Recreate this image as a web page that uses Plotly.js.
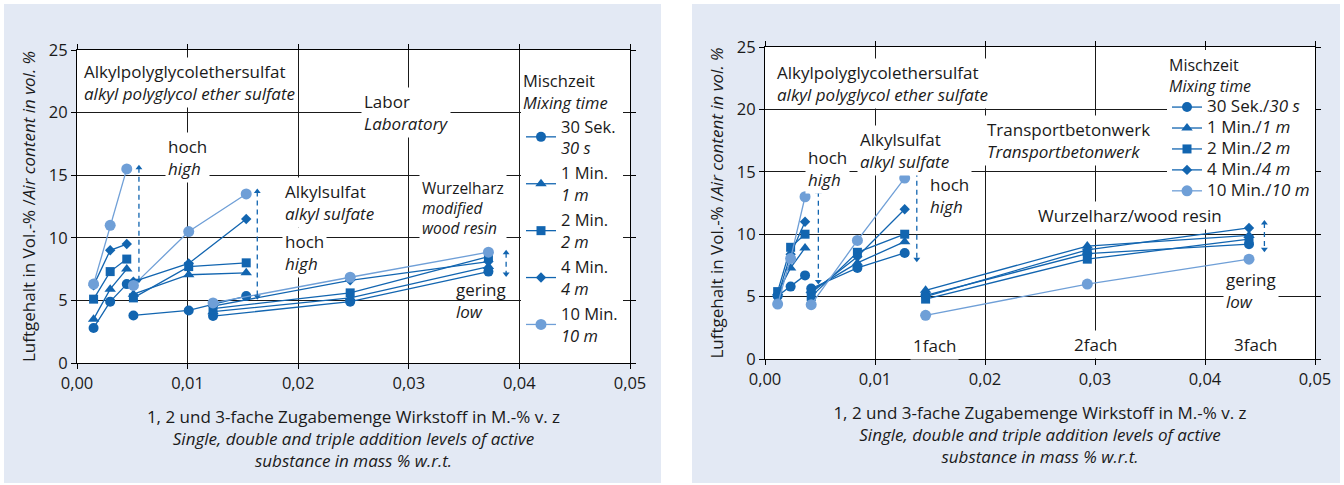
<!DOCTYPE html>
<html>
<head>
<meta charset="utf-8">
<script src="https://cdn.plot.ly/plotly-3.0.1.min.js"></script>
<style>html,body{margin:0;padding:0;background:#fff;}#chart{width:1344px;height:485px;}</style>
</head>
<body>
<div id="chart"></div>
<script>
// ---------- data ----------
const seriesDe = ['30 Sek.', '1 Min.', '2 Min.', '4 Min.', '10 Min.'];
const seriesEn = ['30 s', '1 m', '2 m', '4 m', '10 m'];

// Left chart: Labor / Laboratory
const labX_APES = [0.0015, 0.0030, 0.0045];
const labX_AS   = [0.0051, 0.0101, 0.0153];
const labX_WR   = [0.0123, 0.0247, 0.0372];
const lab30s = [2.8, 4.9, 6.3,   3.8, 4.2, 5.35,   3.75, 4.9, 7.3];
const lab1m  = [3.5, 5.9, 7.5,   5.5, 7.05, 7.2,   4.1, 5.2, 7.7];
const lab2m  = [5.1, 7.3, 8.3,   5.2, 7.7, 8.0,    4.35, 5.6, 8.5];
const lab4m  = [6.2, 9.0, 9.5,   6.5, 7.95, 11.5,  4.55, 6.6, 8.1];
const lab10m = [6.3, 11.0, 15.5, 6.2, 10.5, 13.5,  4.8, 6.85, 8.85];

// Right chart: Transportbetonwerk
const tbX_APES = [0.00115, 0.00233, 0.00364];
const tbX_AS   = [0.0042, 0.0084, 0.0127];
const tbX_WR   = [0.0146, 0.0293, 0.0440];
const tb30s = [5.05, 5.8, 6.7,   5.65, 7.3, 8.5,   5.1, 8.45, 9.2];
const tb1m  = [5.3, 7.3, 8.9,    5.5, 7.7, 9.4,    5.5, 9.05, 9.9];
const tb2m  = [5.4, 8.95, 10.0,  5.0, 8.55, 10.0,  4.8, 8.0, 9.6];
const tb4m  = [5.0, 8.4, 11.0,   5.3, 8.2, 12.0,   5.0, 8.75, 10.5];
const tb10m = [4.4, 8.05, 13.0,  4.35, 9.5, 14.5,  3.5, 6.0, 8.0];

const xTickVals = [0, 0.01, 0.02, 0.03, 0.04, 0.05];
const yTickVals = [0, 5, 10, 15, 20, 25];

// range arrows (x, top, bottom)
const labArrows = [[0.0056, 15.6, 6.6], [0.0163, 13.7, 5.3], [0.0388, 8.8, 7.1]];
const tbArrows  = [[0.00485, 13.4, 6.2], [0.0138, 15.0, 8.0], [0.0454, 10.9, 8.8]];

// ---------- styles ----------
const FONT = 'Open Sans, Noto Sans, sans-serif';
const TXT = '#1a1a1a';
const DARK = '#1265b0';
const LIGHT = '#6f9fd7';
const colors = [DARK, DARK, DARK, DARK, LIGHT];
const symbols = ['circle', 'triangle-up', 'square', 'diamond', 'circle'];
const sizes = [10, 10, 9, 8, 11];

function sz(t, s) { return '<span style="font-size:' + s + 'px">' + t + '</span>'; }

function joinGroups(xs, ys) {
  const x = [], y = [];
  xs.forEach((g, gi) => {
    g.forEach((v, i) => { x.push(v); y.push(ys[gi * 3 + i]); });
    if (gi < xs.length - 1) { x.push(null); y.push(null); }
  });
  return {x, y};
}

const traces = [];
const labSeries = [lab30s, lab1m, lab2m, lab4m, lab10m];
const tbSeries = [tb30s, tb1m, tb2m, tb4m, tb10m];

labSeries.forEach((s, i) => {
  const d = joinGroups([labX_APES, labX_AS, labX_WR], s);
  traces.push({
    type: 'scatter', mode: 'lines+markers', x: d.x, y: d.y, xaxis: 'x', yaxis: 'y',
    name: seriesDe[i] + '<br><i>' + seriesEn[i] + '</i>',
    legend: 'legend', legendgroup: 'L' + i,
    line: {color: colors[i], width: 1.3},
    marker: {symbol: symbols[i], size: sizes[i], color: colors[i]},
    connectgaps: false
  });
});
tbSeries.forEach((s, i) => {
  const d = joinGroups([tbX_APES, tbX_AS, tbX_WR], s);
  traces.push({
    type: 'scatter', mode: 'lines+markers', x: d.x, y: d.y, xaxis: 'x2', yaxis: 'y2',
    name: sz(seriesDe[i] + '/<i>' + seriesEn[i] + '</i>', 17),
    legend: 'legend2', legendgroup: 'R' + i,
    line: {color: colors[i], width: 1.3},
    marker: {symbol: symbols[i], size: sizes[i], color: colors[i]},
    connectgaps: false
  });
});

function arrowTraces(list, xa, ya) {
  list.forEach(a => {
    traces.push({
      type: 'scatter', mode: 'lines', x: [a[0], a[0]], y: [a[1], a[2]], xaxis: xa, yaxis: ya,
      line: {color: DARK, width: 1.3, dash: '5px,4px'}, showlegend: false, hoverinfo: 'skip'
    });
    traces.push({
      type: 'scatter', mode: 'markers', x: [a[0], a[0]], y: [a[1], a[2]], xaxis: xa, yaxis: ya,
      marker: {symbol: ['triangle-up', 'triangle-down'], size: 6, color: DARK},
      showlegend: false, hoverinfo: 'skip'
    });
  });
}
arrowTraces(labArrows, 'x', 'y');
arrowTraces(tbArrows, 'x2', 'y2');

const xTitle = '1, 2 und 3-fache Zugabemenge Wirkstoff in M.-% v. z<br>' +
  '<i>Single, double and triple addition levels of active<br>substance in mass % w.r.t.</i>';

function xAxis(domain, anchor) {
  return {
    domain: domain, anchor: anchor, range: [0, 0.05], tickvals: xTickVals, tickformat: '.2f',
    ticks: 'outside', ticklen: 5, tickcolor: '#000', showline: true, linecolor: '#000', linewidth: 1,
    mirror: 'ticks', showgrid: true, gridcolor: '#1a1a1a', gridwidth: 1, zeroline: false,
    tickfont: {family: FONT, size: 16.5, color: TXT},
    title: {text: xTitle, font: {family: FONT, size: 17, color: TXT}, standoff: 18},
    fixedrange: true
  };
}
function yAxis(domain, anchor) {
  return {
    domain: domain, anchor: anchor, range: [0, 25], tickvals: yTickVals,
    ticks: 'outside', ticklen: 5, tickcolor: '#000', showline: true, linecolor: '#000', linewidth: 1,
    mirror: 'ticks', showgrid: true, gridcolor: '#1a1a1a', gridwidth: 1, zeroline: false,
    tickfont: {family: FONT, size: 16.5, color: TXT},
    title: {
      text: 'Luftgehalt in Vol.-% /<i>Air content in vol. %</i>',
      font: {family: FONT, size: 17, color: TXT}, standoff: 8
    },
    fixedrange: true
  };
}

const W = 1344, H = 485;
const px = v => v / W, py = v => 1 - v / H;

function ann(xref, yref, x, y, text, opts) {
  return Object.assign({
    xref: xref, yref: yref, x: x, y: y, text: text, showarrow: false,
    xanchor: 'left', yanchor: 'middle', align: 'left',
    font: {family: FONT, size: 17, color: TXT}
  }, opts || {});
}
const WHITE = {bgcolor: '#ffffff', borderpad: 2};
const WHITEC = {bgcolor: '#ffffff', borderpad: 2, xanchor: 'center'};
const SMALL = Object.assign({font: {family: FONT, size: 15.5, color: TXT}}, WHITE);

const annotations = [
  // left
  ann('x', 'y', 0.0004, 22.4, 'Alkylpolyglycolethersulfat<br><i>alkyl polyglycol ether sulfate</i>', WHITE),
  ann('x', 'y', 0.0257, 20.0, 'Labor<br><i>Laboratory</i>', WHITE),
  ann('x', 'y', 0.0080, 16.4, 'hoch<br><i>high</i>', WHITE),
  ann('x', 'y', 0.0185, 12.8, 'Alkylsulfat<br><i>alkyl sulfate</i>', WHITE),
  ann('x', 'y', 0.0185, 8.8, 'hoch<br><i>high</i>', WHITE),
  ann('x', 'y', 0.0309, 12.4, 'Wurzelharz<br><i>modified<br>wood resin</i>', SMALL),
  ann('x', 'y', 0.0341, 5.0, 'gering<br><i>low</i>'),
  // right
  ann('x2', 'y2', 0.0008, 22.1, 'Alkylpolyglycolethersulfat<br><i>alkyl polyglycol ether sulfate</i>', WHITE),
  ann('x2', 'y2', 0.00364, 15.3, 'hoch<br><i>high</i>', WHITE),
  ann('x2', 'y2', 0.00836, 16.7, 'Alkylsulfat<br><i>alkyl sulfate</i>', WHITE),
  ann('x2', 'y2', 0.01473, 13.1, 'hoch<br><i>high</i>', WHITE),
  ann('x2', 'y2', 0.0199, 17.5, 'Transportbetonwerk<br><i>Transportbetonwerk</i>', WHITE),
  ann('x2', 'y2', 0.0245, 11.5, 'Wurzelharz/wood resin', WHITE),
  ann('x2', 'y2', 0.0416, 5.5, 'gering<br><i>low</i>', WHITE),
  ann('x2', 'y2', 0.0154, 1.1, '1fach', WHITEC),
  ann('x2', 'y2', 0.0300, 1.2, '2fach', WHITEC),
  ann('x2', 'y2', 0.0446, 1.2, '3fach', WHITEC)
];

const shapes = [
  {type: 'rect', xref: 'paper', yref: 'paper', x0: px(661), x1: px(692), y0: 0, y1: 1, fillcolor: '#fff', line: {width: 0}, layer: 'below'},
  {type: 'rect', xref: 'paper', yref: 'paper', x0: 0, x1: px(4), y0: 0, y1: 1, fillcolor: '#fff', line: {width: 0}, layer: 'below'},
  {type: 'rect', xref: 'paper', yref: 'paper', x0: px(1340), x1: 1, y0: 0, y1: 1, fillcolor: '#fff', line: {width: 0}, layer: 'below'},
  {type: 'rect', xref: 'paper', yref: 'paper', x0: 0, x1: 1, y0: py(4), y1: 1, fillcolor: '#fff', line: {width: 0}, layer: 'below'},
  {type: 'rect', xref: 'paper', yref: 'paper', x0: 0, x1: 1, y0: 0, y1: py(483), fillcolor: '#fff', line: {width: 0}, layer: 'below'}
];

const legendTitle = 'Mischzeit<br><i>Mixing time</i>';

const layout = {
  width: W, height: H,
  margin: {l: 0, r: 0, t: 0, b: 0, pad: 0},
  paper_bgcolor: '#e3e9f4', plot_bgcolor: '#ffffff',
  separators: ',.',
  font: {family: FONT, size: 14, color: TXT},
  showlegend: true,
  xaxis: xAxis([px(77), px(630)], 'y'),
  yaxis: yAxis([py(363), py(50)], 'x'),
  xaxis2: xAxis([px(765), px(1315)], 'y2'),
  yaxis2: yAxis([py(359), py(47)], 'x2'),
  legend: {
    x: px(521), y: py(66), xanchor: 'left', yanchor: 'top', bgcolor: '#ffffff', borderwidth: 0,
    font: {family: FONT, size: 16.5, color: TXT}, traceorder: 'grouped', tracegroupgap: 1,
    title: {text: legendTitle, font: {family: FONT, size: 16.5, color: TXT}},
    itemclick: false, itemdoubleclick: false
  },
  legend2: {
    x: px(1167), y: py(50), xanchor: 'left', yanchor: 'top', bgcolor: '#ffffff', borderwidth: 0,
    font: {family: FONT, size: 13.8, color: TXT}, traceorder: 'grouped', tracegroupgap: 0,
    title: {text: legendTitle, font: {family: FONT, size: 16, color: TXT}},
    itemclick: false, itemdoubleclick: false
  },
  annotations: annotations,
  shapes: shapes
};

Plotly.newPlot('chart', traces, layout, {displayModeBar: false, staticPlot: true});
</script>
</body>
</html>
